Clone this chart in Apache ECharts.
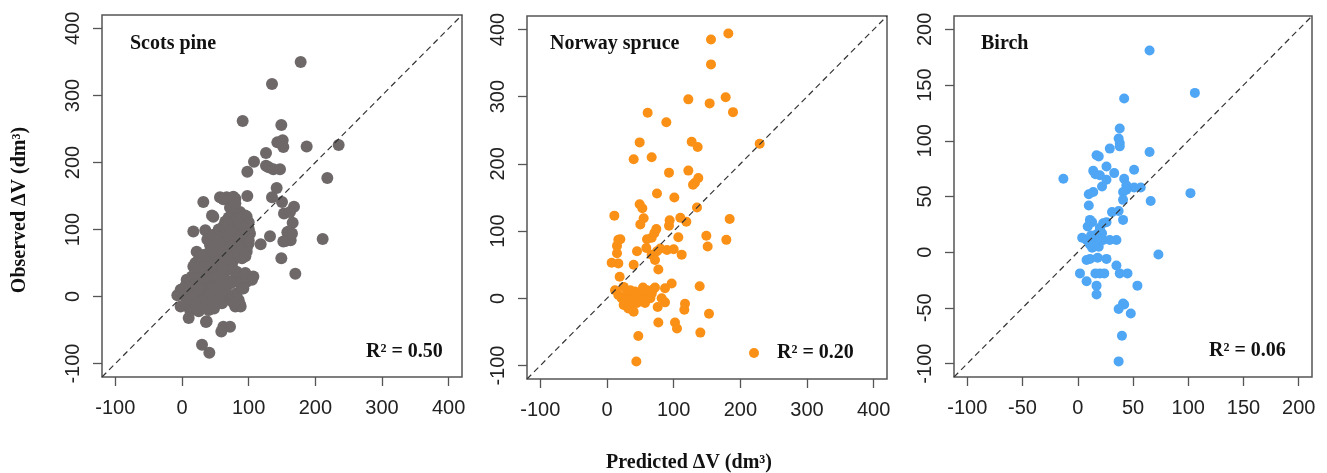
<!DOCTYPE html>
<html>
<head>
<meta charset="utf-8">
<script src="https://cdn.jsdelivr.net/npm/echarts@6/dist/echarts.min.js"></script>
<style>
html,body{margin:0;padding:0;background:#fff;}
#chart{width:1327px;height:473px;}
</style>
</head>
<body>
<div id="chart"></div>
<script>
// ---- Data (predicted, observed) in dm³ ----
const panelTitles = ["Scots pine", "Norway spruce", "Birch"];
const r2Labels = ["R² = 0.50", "R² = 0.20", "R² = 0.06"];
const axisTitleX = "Predicted ΔV (dm³)";
const axisTitleY = "Observed ΔV (dm³)";

const pineTicks = [-100, 0, 100, 200, 300, 400];
const spruceTicks = [-100, 0, 100, 200, 300, 400];
const birchTicks = [-100, -50, 0, 50, 100, 150, 200];

const pinePoints = [
  [178,350],[135,317],[91,262],[149,256],[235,226],[187,224],[143,230],[151,233],[152,223],[126,214],
  [108,201],[98,186],[126,195],[130,193],[137,190],[147,190],[218,177],[142,162],[135,148],[98,150],
  [150,141],[153,124],[168,134],[162,126],[166,110],[158,96],[155,83],[163,84],[211,86],[132,90],
  [118,78],[149,57],[170,34],[152,82],[160,97],[165,94],
  [32,141],[57,148],[67,148],[77,149],[62,145],[80,146],[72,133],[77,128],[87,126],[97,119],
  [75,134],[80,139],[47,119],[45,121],[95,121],[100,111],[92,113],[85,118],[82,110],[90,104],
  [70,118],[65,112],
  [17,97],[35,99],[42,77],[52,94],[65,99],[75,104],[85,109],[70,84],[80,79],[92,81],
  [100,79],[100,101],[95,84],[102,94],[100,84],[97,72],[90,59],[72,57],[77,54],[88,92],
  [80,95],[75,90],[60,88],[55,82],[62,78],[68,95],[85,100],[92,96],[98,106],[82,88],
  [45,69],[55,64],[22,67],[32,62],[42,59],[70,66],[90,57],[97,67],[17,45],[27,40],
  [15,30],[27,25],[7,25],[-2,10],[-7,2],[42,37],[52,45],[60,50],[45,25],[55,25],
  [65,25],[32,5],[47,7],[57,2],[67,5],[80,27],[87,30],[97,30],[102,27],[82,5],
  [85,-5],[80,-15],[72,-5],[60,-10],[50,-5],[7,-5],[-2,-15],[12,-20],[25,-22],[37,-37],
  [10,-32],[62,-45],[72,-45],[36,-38],[59,-52],[30,-72],[41,-84],[82,-2],[87,-12],[107,30],
  [87,20],[97,22],[82,37],[67,15],[60,7],
  [20,50],[30,50],[25,55],[35,45],[40,50],[30,35],[20,35],[15,15],[5,15],[0,5],
  [10,5],[20,10],[25,0],[35,15],[40,20],[45,40],[50,55],[35,60],[40,65],[48,72],
  [52,60],[58,70],[38,52],[28,45],[22,28],[12,22],[18,18],[5,0],[2,12],[30,20],
  [38,28],[48,50],[55,40],[62,35],[70,40],[75,45],[65,55],[45,12],[40,0],[30,-5],
  [20,-8],[15,5],[10,12],[50,30],[58,18],[73,20],[92,12],[95,35],[105,25],[88,-15],
  [78,-10],[55,-3],[42,-12],[35,-15],[40,-20],[48,-18],[25,12],[33,28],[43,45],[28,60],
  [38,85],[46,92],[55,100],[62,105],[68,108],[74,98],[84,75],[88,68],[95,60],[78,65],
  [72,75],[60,42]
];

const sprucePoints = [
  [182,394],[156,385],[156,348],[122,296],[154,290],[178,299],[189,277],[61,276],[89,262],[229,230],
  [49,232],[127,233],[136,225],[40,207],[67,210],[93,187],[122,190],[137,179],[132,172],[129,169],
  [75,156],[101,150],[49,140],[53,134],[135,135],[11,123],[55,119],[50,110],[110,120],[119,114],
  [94,116],[93,108],[184,118],[149,93],[179,87],[151,77],[107,91],[74,103],[71,97],[67,90],
  [60,88],[59,75],[75,70],[80,74],[90,72],[100,73],[112,65],[67,65],[72,57],[77,43],
  [45,70],[15,78],[17,87],[20,88],[15,67],[7,53],[17,52],[40,50],[19,32],[97,22],
  [139,18],[87,15],[72,16],[69,13],[54,16],[12,12],[25,17],[30,7],[22,0],[27,-7],
  [32,-15],[40,-20],[45,-7],[40,2],[47,7],[55,2],[57,-7],[65,0],[67,7],[35,12],
  [17,5],[50,-2],[37,-2],[82,0],[87,-6],[76,-13],[117,-8],[116,-17],[153,-23],[77,-36],
  [102,-36],[105,-45],[140,-51],[47,-56],[44,-94],[30,-3],[42,10],[60,12],[25,-10],[35,-8]
];

const birchPoints = [
  [65,181],[106,143],[42,138],[38,111],[37,102],[38,98],[38,95],[29,93],[65,90],[17,87],
  [19,86],[26,77],[51,74],[14,73],[16,70],[20,69],[33,71],[-13,66],[42,66],[26,65],
  [22,59],[44,60],[44,56],[41,54],[51,58],[57,58],[14,54],[10,52],[102,53],[66,46],
  [41,47],[10,42],[31,36],[37,37],[41,29],[11,29],[9,23],[13,27],[23,26],[20,22],
  [26,27],[4,13],[8,11],[13,10],[17,11],[23,11],[29,11],[35,11],[13,4],[19,5],
  [11,7],[17,16],[22,17],[20,20],[73,-2],[8,-7],[11,-6],[18,-5],[26,-6],[35,-12],
  [2,-19],[16,-19],[20,-19],[24,-19],[38,-19],[45,-19],[8,-26],[17,-30],[54,-30],[17,-38],
  [41,-46],[42,-47],[37,-51],[48,-55],[40,-75],[37,-98],[15,8],[18,13],[12,15]
];

// axis limits before R-style 4% extension
const pineLimits = [-100, 400];
const spruceLimits = [-100, 400];
const birchLimits = [-100, 200];

const colors = ["#6e6869", "#fa9016", "#4ea6f5"];

function ext(l){ const d = (l[1]-l[0])*0.04; return [l[0]-d, l[1]+d]; }

const grids = [
  {left:102, top:15, width:360, height:362},
  {left:527, top:16, width:360, height:363},
  {left:954, top:16, width:358, height:361}
];
const limits = [pineLimits, spruceLimits, birchLimits];
const ticks = [pineTicks, spruceTicks, birchTicks];
const points = [pinePoints, sprucePoints, birchPoints];
const symSizes = [12, 10, 10];

const xAxes = [], yAxes = [], series = [];
for (let i = 0; i < 3; i++) {
  const r = ext(limits[i]);
  const common = {
    type:'value', gridIndex:i, min:r[0], max:r[1],
    splitLine:{show:false},
    axisLine:{show:false, onZero:false},
    axisTick:{show:true, inside:false, length:9, customValues:ticks[i], lineStyle:{color:'#555', width:1.3}},
    axisLabel:{customValues:ticks[i], fontFamily:'Liberation Sans, Arial', fontSize:20, color:'#222', margin:21}
  };
  xAxes.push(Object.assign({}, common, {position:'bottom'}));
  yAxes.push(Object.assign({}, common, {position:'left', axisLabel:Object.assign({}, common.axisLabel, {rotate:90, margin:19})}));
  series.push({
    type:'scatter', name:panelTitles[i], xAxisIndex:i, yAxisIndex:i,
    data:points[i], symbol:'circle', symbolSize:symSizes[i],
    itemStyle:{color:colors[i], opacity:1}, z:3, silent:true
  });
  series.push({
    type:'line', xAxisIndex:i, yAxisIndex:i, data:[[r[0],r[0]],[r[1],r[1]]],
    symbol:'none', silent:true, z:4,
    lineStyle:{color:'#333', width:1.2, type:[6,4]}
  });
}

const serif = 'Liberation Serif, Times New Roman, serif';
const titleStyle = {fontFamily:serif, fontWeight:'bold', fontSize:20, fill:'#111', textVerticalAlign:'middle'};
const graphics = [
  {type:'text', left:130, top:34, style:Object.assign({text:panelTitles[0]}, titleStyle)},
  {type:'text', left:550, top:34, style:Object.assign({text:panelTitles[1]}, titleStyle)},
  {type:'text', left:981, top:34, style:Object.assign({text:panelTitles[2]}, titleStyle)},
  {type:'text', left:366, top:342, style:Object.assign({text:r2Labels[0]}, titleStyle)},
  {type:'text', left:1209, top:341, style:Object.assign({text:r2Labels[2]}, titleStyle)},
  {type:'text', x:20, y:210, rotation:Math.PI/2, style:{text:axisTitleY, fontFamily:serif, fontWeight:'bold', fontSize:20, fill:'#111', textAlign:'center', textVerticalAlign:'middle'}},
  {type:'text', x:689, y:463, style:{text:axisTitleX, fontFamily:serif, fontWeight:'bold', fontSize:20, fill:'#111', textAlign:'center', textVerticalAlign:'middle'}}
];

const chart = echarts.init(document.getElementById('chart'), null, {renderer:'canvas'});
chart.setOption({
  animation:false,
  backgroundColor:'#fff',
  grid:grids.map(g => Object.assign({show:true, borderColor:'#555', borderWidth:1.5, backgroundColor:'transparent'}, g)),
  xAxis:xAxes,
  yAxis:yAxes,
  legend:{
    data:[panelTitles[1]], left:749, top:343, padding:0,
    itemWidth:36, itemHeight:10, icon:'circle',
    formatter:() => r2Labels[1],
    textStyle:{fontFamily:serif, fontWeight:'bold', fontSize:20, color:'#111'}
  },
  series:series,
  graphic:graphics
});
</script>
</body>
</html>
